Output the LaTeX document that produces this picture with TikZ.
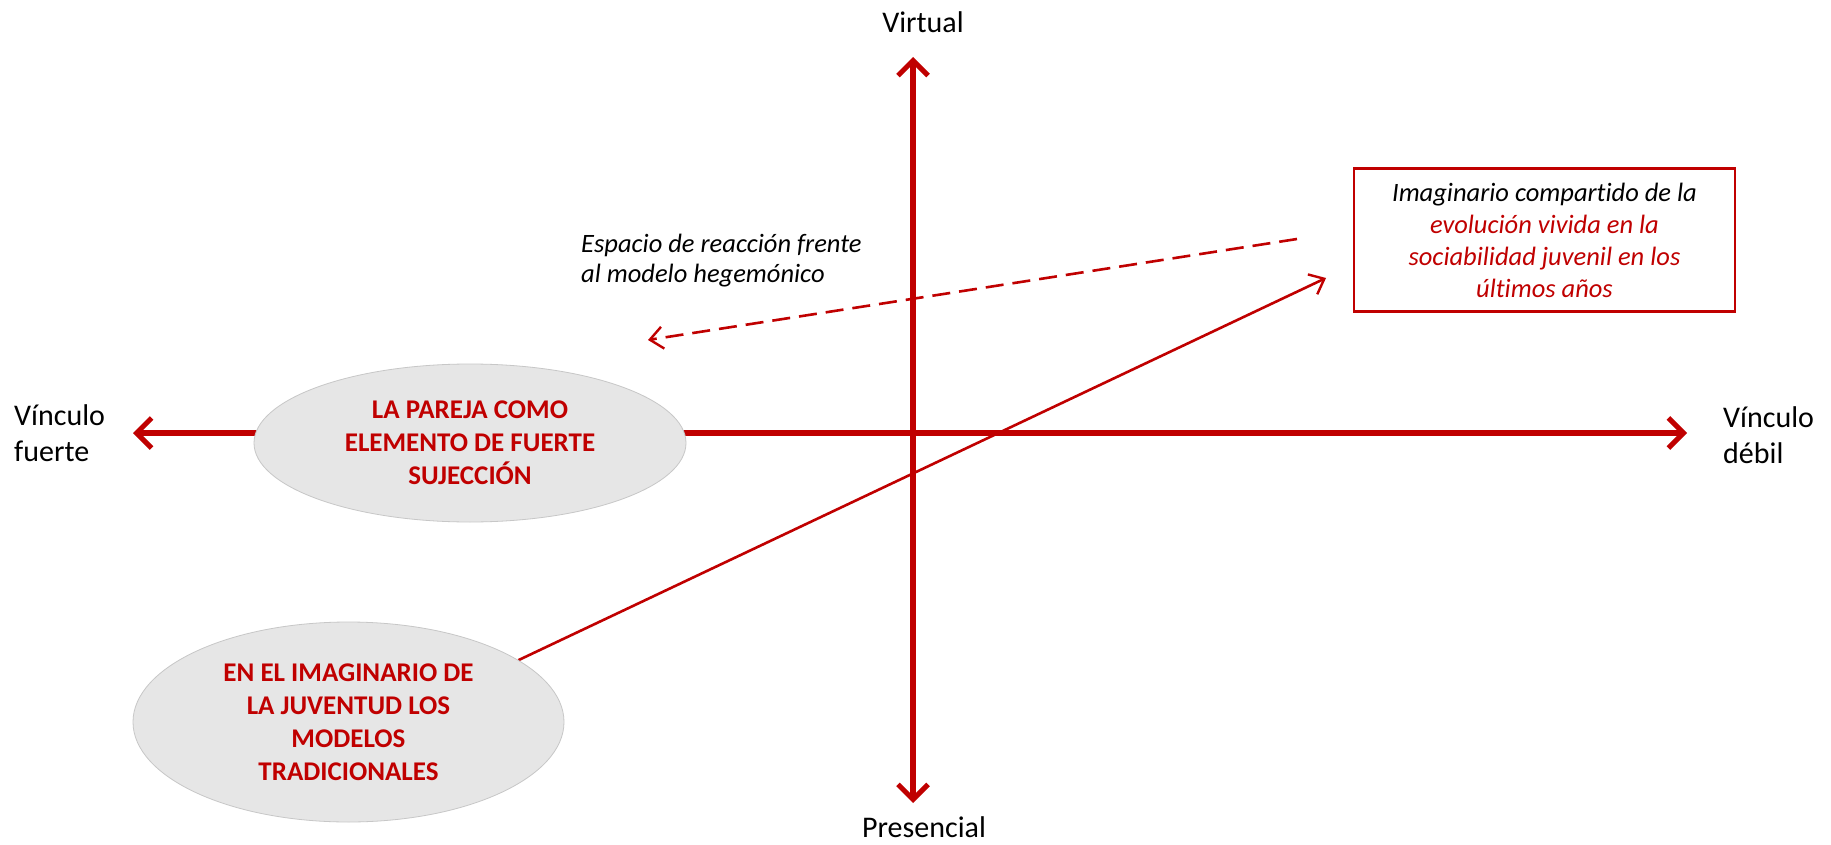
\documentclass[tikz,border=0pt]{standalone}
\usepackage{fontspec}
\setmainfont{Carlito}[Ligatures=NoCommon]
\usetikzlibrary{arrows.meta,shapes.geometric}
\definecolor{axred}{HTML}{C00000}
\definecolor{ellgray}{HTML}{E6E6E6}
\pgfdeclarelayer{lines}
\pgfsetlayers{lines,main}
\begin{document}
\begin{tikzpicture}[x=1pt,y=-1pt,
  axisline/.style={draw=axred, line width=6pt,
    -{Straight Barb[length=15pt,width=30pt,line width=5pt]}},
  thinarrow/.style={draw=axred, line width=2.6pt,
    -{Straight Barb[length=13pt,width=22pt,line width=2.4pt]}},
  dasharrow/.style={thinarrow, dash pattern=on 18pt off 9pt},
  axislabel/.style={font=\fontsize{30}{36}\selectfont, align=left, inner sep=0pt},
  bubble/.style={ellipse, fill=ellgray, draw=black!22, line width=0.8pt,
    inner sep=0pt, align=center, text=axred,
    font=\fontsize{27}{33}\selectfont\bfseries},
  notebox/.style={draw=axred, line width=2.2pt, fill=white, inner sep=0pt,
    minimum width=381pt, minimum height=143pt, align=center,
    font=\fontsize{26.5}{32}\selectfont\itshape},
  notetext/.style={font=\fontsize{26.5}{30}\selectfont\itshape, align=left, inner sep=0pt}
]
\useasboundingbox (0,0) rectangle (1831,845);
\begin{pgfonlayer}{lines}
\fill[white] (0,0) rectangle (1831,845);
\end{pgfonlayer}

% axis end points
\coordinate (ytop) at (913,57);
\coordinate (ybot) at (913,803);
\coordinate (xleft) at (133,433);
\coordinate (xright) at (1687,433);
\coordinate (orig) at (913,433);

% ovals and note box
\node[bubble, minimum width=432pt, minimum height=158pt] (pareja) at (470,443)
  {LA PAREJA COMO\\ELEMENTO DE FUERTE\\SUJECCIÓN};
\node[bubble, minimum width=431pt, minimum height=200pt] (modelos) at (348.5,722)
  {EN EL IMAGINARIO DE\\LA JUVENTUD LOS\\MODELOS\\TRADICIONALES};
\node[notebox] (imag) at (1544.5,240)
  {Imaginario compartido de la\\
   \textcolor{axred}{evolución vivida en la}\\
   \textcolor{axred}{sociabilidad juvenil en los}\\
   \textcolor{axred}{últimos años}};
\node[notetext, anchor=west] (espacio) at (581,261)
  {Espacio de reacción frente\\al modelo hegemónico};

% axis labels
\node[axislabel, anchor=center] (virtual) at (923,22) {Virtual};
\node[axislabel, anchor=center] (presencial) at (924,827) {Presencial};
\node[axislabel, anchor=west] (fuerte) at (14,433) {Vínculo\\fuerte};
\node[axislabel, anchor=west] (debil) at (1723,435) {Vínculo\\débil};

% connectors and axes, kept beneath the ovals
\coordinate (tipA) at (1326,278);
\coordinate (dashstart) at (1297,239);
\coordinate (tipB) at (648,340);
\begin{pgfonlayer}{lines}
\draw[thinarrow] (modelos.20.4) -- (tipA);
\draw[dasharrow] (dashstart) -- (tipB);
\draw[axisline] (orig) -- (ytop);
\draw[axisline] (orig) -- (ybot);
\draw[axisline] (orig) -- (xleft);
\draw[axisline] (orig) -- (xright);
\end{pgfonlayer}
\end{tikzpicture}
\end{document}
